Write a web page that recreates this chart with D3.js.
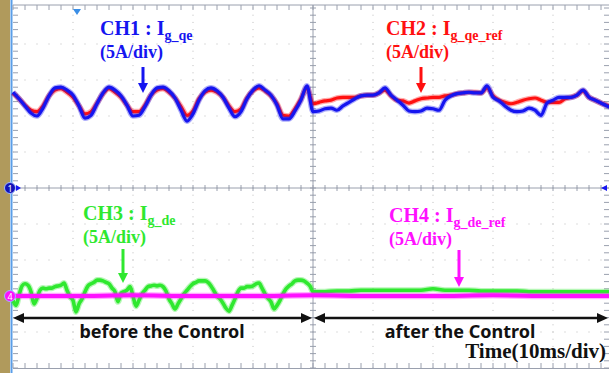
<!DOCTYPE html>
<html>
<head>
<meta charset="utf-8">
<script src="https://cdn.jsdelivr.net/npm/d3@7/dist/d3.min.js"></script>
<style>
  html, body { margin: 0; padding: 0; background: #fff; }
  svg { display: block; }
</style>
</head>
<body>
<div id="chart"></div>
<script>
// Scope capture: grid currents before / after the control is enabled.
// Time base 10 ms/div, every channel 5 A/div.

// CH1 / CH2 sampled every 1 ms (0..100 ms), amps
const TIME = d3.range(0, 101, 1);
const CH1_IGQE = [
  13.3, 12.4, 11.4, 10.4, 10.0, 11.1, 12.8, 13.9, 14.0, 13.6,
  12.9, 11.4, 9.7, 10.1, 11.7, 13.2, 14.0, 13.6, 12.8, 11.5,
  10.0, 10.1, 11.3, 12.9, 13.9, 14.0, 13.5, 12.5, 10.8, 9.3,
  10.3, 12.2, 13.5, 13.9, 13.5, 12.6, 11.1, 9.9, 10.6, 12.4,
  13.6, 14.2, 13.6, 12.9, 11.5, 9.6, 9.6, 10.7, 12.2, 14.2,
  10.6, 10.7, 11.0, 11.1, 10.8, 11.4, 11.9, 12.4, 12.8, 12.9,
  12.9, 13.2, 13.9, 12.9, 12.2, 11.5, 10.7, 10.6, 10.7, 11.1,
  11.0, 10.8, 12.2, 12.8, 13.1, 13.2, 13.3, 13.2, 13.2, 14.2,
  12.6, 12.1, 11.4, 10.8, 10.6, 10.7, 11.1, 10.8, 10.1, 11.8,
  12.2, 12.6, 12.6, 12.6, 12.9, 13.6, 12.6, 12.2, 11.8, 11.4, 11.1
];
const CH2_IGQE_REF = [
  13.2, 12.4, 11.5, 10.8, 10.6, 11.4, 12.8, 13.6, 13.8, 13.3,
  12.6, 11.4, 10.3, 10.6, 11.8, 13.1, 13.8, 13.3, 12.6, 11.5,
  10.6, 10.6, 11.5, 12.9, 13.6, 13.8, 13.3, 12.5, 11.3, 10.1,
  10.7, 12.4, 13.3, 13.6, 13.3, 12.6, 11.4, 10.6, 11.0, 12.5,
  13.5, 13.9, 13.5, 12.8, 11.7, 10.1, 10.0, 11.0, 12.4, 13.9,
  11.7, 11.9, 12.1, 12.2, 12.5, 12.6, 12.6, 12.6, 12.8, 12.9,
  12.9, 13.2, 13.6, 12.8, 12.2, 12.1, 11.8, 12.1, 12.4, 12.5,
  12.6, 12.6, 12.8, 12.9, 13.1, 13.2, 13.3, 13.3, 13.2, 13.9,
  12.8, 12.2, 11.9, 11.7, 11.9, 12.2, 12.4, 12.5, 12.2, 11.9,
  11.9, 11.9, 12.4, 12.6, 12.9, 13.5, 12.6, 12.2, 11.8, 11.5, 11.3
];

// CH3 sampled every 0.5 ms before the control, every 2 ms after
const CH3_TIME = d3.range(0, 50.5, 0.5).concat(d3.range(52, 101, 2));
const CH3_IGDE = [
  -0.6, -1.3, 0.1, 1.4, 1.7, 1.5, 0.6, -1.1, -0.3, 0.8,
  1.1, 1.0, 1.1, 1.1, 1.3, 1.4, 1.5, 1.8, 0.8, -0.1,
  -0.6, -2.2, -1.1, -0.4, 0.6, 1.4, 1.7, 1.9, 2.2, 2.2,
  2.1, 1.9, 1.7, 1.1, 0.6, -0.8, 0.4, 0.6, 0.8, 1.3,
  0.0, -1.4, -0.6, 0.3, 0.8, 1.3, 1.4, 1.5, 1.4, 1.5,
  1.3, 0.7, -0.4, -1.1, -1.8, -1.1, -0.4, 0.3, 0.8, 1.3,
  1.7, 1.9, 2.1, 2.1, 2.1, 1.9, 1.4, 0.7, 0.0, -0.4,
  -1.0, -1.7, -2.1, -1.3, -0.4, 0.6, 1.1, 1.1, 1.3, 1.3,
  1.4, 1.7, 1.8, 1.1, 0.3, -0.3, -0.8, -1.8, -1.3, -0.6,
  0.3, 1.0, 1.4, 1.7, 2.1, 2.2, 2.2, 2.1, 1.8, 1.4, 0.6,
  0.6, 0.7, 0.7, 0.8, 0.8, 0.8, 0.8, 0.8, 0.8, 1.0,
  0.8, 0.8, 0.8, 0.7, 0.7, 0.7, 0.7, 0.6, 0.6, 0.6,
  0.6, 0.6, 0.6, 0.6, 0.6
];

// CH4 reference is flat at zero
const CH4_TIME = d3.range(0, 101, 10);
const CH4_IGDE_REF = [0.0, 0.0, 0.1, 0.0, 0.0, 0.1, 0.0, 0.0, 0.1, 0.0, 0.0];

const W = 609, H = 373;
const C = {
  ch1: '#1515f0', ch2: '#ff1010', ch3: '#2fe82f', ch4: '#ff10ff',
  grid: '#bdbdbd', axis: '#9aa0ae', bezel: '#b09a5c', edge: '#5a9ee8'
};
const SERIF = '"Liberation Serif", "Times New Roman", serif';
const SANS = '"Noto Sans", "Open Sans", sans-serif';

const svg = d3.select('#chart').append('svg')
  .attr('width', W).attr('height', H)
  .attr('font-family', SERIF);

// screen: 10 x 10 divisions
const x = d3.scaleLinear().domain([0, 100]).range([13, 613]);
const yDiv = d3.scaleLinear().domain([5, -5]).range([8, 368]);
const VPD = 5; // A per division
const chY = (offsetDiv) => (a) => yDiv(offsetDiv + a / VPD);

// bezel + left edge
svg.append('rect').attr('x', 0).attr('y', 0).attr('width', 10).attr('height', H).attr('fill', C.bezel);
svg.append('line').attr('x1', 11.5).attr('x2', 11.5).attr('y1', 0).attr('y2', H)
  .attr('stroke', C.edge).attr('stroke-width', 2);

// dotted graticule
const grid = svg.append('g').attr('fill', C.grid);
d3.range(1, 10).forEach((i) => {
  const gx = x(i * 10);
  d3.range(0, 51).forEach((j) => {
    grid.append('rect').attr('x', gx - 0.5).attr('y', yDiv(5) + j * 7.2 - 0.5).attr('width', 1).attr('height', 1);
  });
});
d3.range(-4, 5).forEach((d) => {
  const gy = yDiv(d);
  d3.range(0, 51).forEach((j) => {
    grid.append('rect').attr('x', x(j * 2) - 0.5).attr('y', gy - 0.5).attr('width', 1).attr('height', 1);
  });
});

// centre cross + frame with minor ticks
const ax = svg.append('g').attr('stroke', C.axis).attr('stroke-width', 1);
ax.append('line').attr('x1', 13).attr('x2', W).attr('y1', yDiv(0)).attr('y2', yDiv(0));
ax.append('line').attr('x1', x(50)).attr('x2', x(50)).attr('y1', 5).attr('y2', 368);
ax.append('line').attr('x1', 13).attr('x2', W).attr('y1', 5).attr('y2', 5);
ax.append('line').attr('x1', 13).attr('x2', W).attr('y1', 368.5).attr('y2', 368.5);
d3.range(0, 51).forEach((j) => {
  const tx = x(j * 2);
  ax.append('line').attr('x1', tx).attr('x2', tx).attr('y1', yDiv(0) - 3).attr('y2', yDiv(0) + 3);
  ax.append('line').attr('x1', tx).attr('x2', tx).attr('y1', 5).attr('y2', 10);
  ax.append('line').attr('x1', tx).attr('x2', tx).attr('y1', 363).attr('y2', 368);
  const ty = yDiv(5) + j * 7.2;
  ax.append('line').attr('x1', x(50) - 3).attr('x2', x(50) + 3).attr('y1', ty).attr('y2', ty);
  ax.append('line').attr('x1', 13).attr('x2', 18).attr('y1', ty).attr('y2', ty);
  ax.append('line').attr('x1', 604).attr('x2', W).attr('y1', ty).attr('y2', ty);
});

// traces
const traces = svg.append('g').attr('fill', 'none').attr('stroke-linejoin', 'round');
function trace(times, values, offsetDiv, color, width) {
  const line = d3.line()
    .x((d, i) => x(times[i]))
    .y((d) => chY(offsetDiv)(d))
    .curve(d3.curveMonotoneX);
  traces.append('path').datum(values).attr('d', line)
    .attr('stroke', color).attr('stroke-width', width + 2.5).attr('opacity', 0.35);
  traces.append('path').datum(values).attr('d', line)
    .attr('stroke', color).attr('stroke-width', width);
}
trace(TIME, CH2_IGQE_REF, 0, C.ch2, 3.2);
trace(TIME, CH1_IGQE, 0, C.ch1, 3.2);
trace(CH3_TIME, CH3_IGDE, -3, C.ch3, 3.6);
trace(CH4_TIME, CH4_IGDE_REF, -3, C.ch4, 4);

// channel markers
function badge(cx, cy, fill, label) {
  svg.append('circle').attr('cx', cx).attr('cy', cy).attr('r', 5.5)
    .attr('fill', fill).attr('stroke', '#9fb8ff').attr('stroke-width', 1);
  svg.append('text').attr('x', cx).attr('y', cy + 3.5).attr('text-anchor', 'middle')
    .attr('font-family', SANS).attr('font-size', 9).attr('fill', '#fff').text(label);
}
badge(10, yDiv(0), '#1212b8', '1');
svg.append('path').attr('d', `M16,${yDiv(0) - 3}L21,${yDiv(0)}L16,${yDiv(0) + 3}Z`).attr('fill', C.ch1);
badge(10, yDiv(-3), C.ch4, '4');
svg.append('path').attr('d', `M607,${yDiv(0) - 3}L601,${yDiv(0)}L607,${yDiv(0) + 3}Z`).attr('fill', C.ch1);
svg.append('path').attr('d', 'M73,9L81,9L77,15Z').attr('fill', '#3a8ee6');

// channel captions
function caption(x0, y0, color, main, sub) {
  const t = svg.append('text').attr('x', x0).attr('y', y0).attr('fill', color)
    .attr('font-weight', 'bold').attr('font-size', 20);
  t.append('tspan').text(main);
  t.append('tspan').attr('font-size', 14).attr('dy', 5).text(sub);
  svg.append('text').attr('x', x0).attr('y', y0 + 23).attr('fill', color)
    .attr('font-weight', 'bold').attr('font-size', 18).text('(5A/div)');
}
caption(100, 35, C.ch1, 'CH1 : I', 'g_qe');
caption(386, 35, C.ch2, 'CH2 : I', 'g_qe_ref');
caption(83, 220, C.ch3, 'CH3 : I', 'g_de');
caption(389, 222, C.ch4, 'CH4 : I', 'g_de_ref');

function downArrow(ax0, y0, y1, color) {
  svg.append('line').attr('x1', ax0).attr('x2', ax0).attr('y1', y0).attr('y2', y1 - 8)
    .attr('stroke', color).attr('stroke-width', 3);
  svg.append('path').attr('d', `M${ax0 - 5},${y1 - 10}L${ax0 + 5},${y1 - 10}L${ax0},${y1}Z`).attr('fill', color);
}
downArrow(143, 67, 93, C.ch1);
downArrow(421, 67, 93, C.ch2);
downArrow(123, 249, 283, C.ch3);
downArrow(459, 250, 287, C.ch4);

// before / after spans
function span(xa, xb, y0) {
  svg.append('line').attr('x1', xa + 8).attr('x2', xb - 8).attr('y1', y0).attr('y2', y0)
    .attr('stroke', '#111').attr('stroke-width', 2.5);
  svg.append('path').attr('d', `M${xa},${y0}L${xa + 11},${y0 - 5}L${xa + 11},${y0 + 5}Z`).attr('fill', '#111');
  svg.append('path').attr('d', `M${xb},${y0}L${xb - 11},${y0 - 5}L${xb - 11},${y0 + 5}Z`).attr('fill', '#111');
}
span(13, 312, 318);
span(314, 608, 318);

svg.append('text').attr('x', 162).attr('y', 338).attr('text-anchor', 'middle')
  .attr('font-family', SANS).attr('font-weight', 'bold').attr('font-size', 18).attr('fill', '#111')
  .text('before the Control');
svg.append('text').attr('x', 460).attr('y', 338).attr('text-anchor', 'middle')
  .attr('font-family', SANS).attr('font-weight', 'bold').attr('font-size', 18).attr('fill', '#111')
  .text('after the Control');
svg.append('text').attr('x', 606).attr('y', 358).attr('text-anchor', 'end')
  .attr('font-weight', 'bold').attr('font-size', 21).attr('fill', '#111')
  .text('Time(10ms/div)');
</script>
</body>
</html>
